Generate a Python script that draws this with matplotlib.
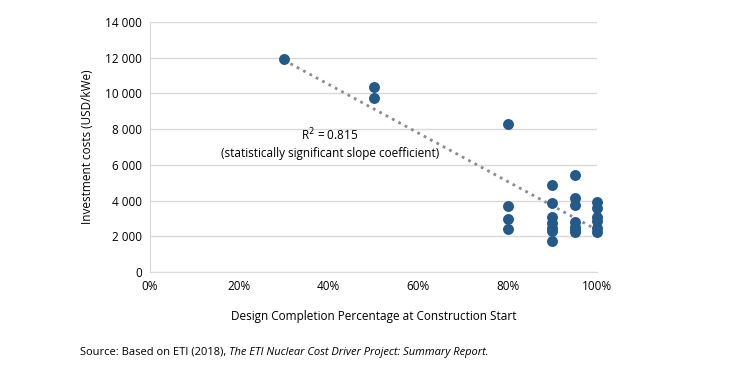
import numpy as np
import matplotlib
matplotlib.use('Agg')
import matplotlib.pyplot as plt

plt.rcParams['font.family'] = ['Open Sans', 'DejaVu Sans']

# design completion (%) and investment costs (USD/kWe)
design_pct = [30, 50, 50,
              80, 80, 80, 80,
              90, 90, 90, 90, 90, 90, 90,
              95, 95, 95, 95, 95, 95, 95,
              100, 100, 100, 100, 100, 100]
cost = [11950, 10350, 9750,
        8300, 3700, 2980, 2420,
        4850, 3870, 3100, 2720, 2460, 2320, 1730,
        5450, 4150, 3760, 2780, 2540, 2330, 2220,
        3900, 3580, 3060, 2830, 2460, 2230]

x_ticks = [0, 20, 40, 60, 80, 100]
y_ticks = [0, 2000, 4000, 6000, 8000, 10000, 12000, 14000]

fig = plt.figure(figsize=(7.43, 3.69), dpi=100)
ax = fig.add_axes([150 / 743, 1 - 272 / 369, 447 / 743, 250 / 369])

x = np.array(design_pct, dtype=float)
y = np.array(cost, dtype=float)
slope, icpt = np.polyfit(x, y, 1)
xl = np.array([30, 100])
ax.plot(xl, slope * xl + icpt, linestyle=(0, (1, 1.6)), color='#8c8c8c', lw=2, zorder=2)

ax.scatter(x, y, s=62, color='#235a8a', zorder=3, linewidths=0, clip_on=False)

ax.set_xlim(0, 100)
ax.set_ylim(0, 14000)
ax.set_xticks(x_ticks)
ax.set_xticklabels([f'{v}%' for v in x_ticks], fontsize=8.5)
ax.set_yticks(y_ticks)
ax.set_yticklabels([f'{v:,}'.replace(',', ' ') for v in y_ticks], fontsize=8.5)
ax.tick_params(length=0, pad=6)
ax.yaxis.grid(True, color='#d9d9d9', lw=1)
ax.set_axisbelow(True)
for s in ['top', 'right']:
    ax.spines[s].set_visible(False)
ax.spines['left'].set_color('#d9d9d9')
ax.spines['bottom'].set_color('#d9d9d9')

ax.set_ylabel('Investment costs (USD/kWe)', fontsize=8.5, labelpad=8)
ax.set_xlabel('Design Completion Percentage at Construction Start', fontsize=8.5, labelpad=12)

ax.text(40.2, 7200, 'R$^2$ = 0.815\n(statistically significant slope coefficient)',
        ha='center', va='center', fontsize=8.5, linespacing=1.4)

t1 = fig.text(80 / 743, 1 - 352 / 369, 'Source: Based on ETI (2018), ', fontsize=8, va='center')
ax.annotate('The ETI Nuclear Cost Driver Project: Summary Report.', xy=(1, 0.5),
            xycoords=t1, va='center', ha='left', fontsize=8, style='italic')

fig.savefig('out.png', dpi=100)
